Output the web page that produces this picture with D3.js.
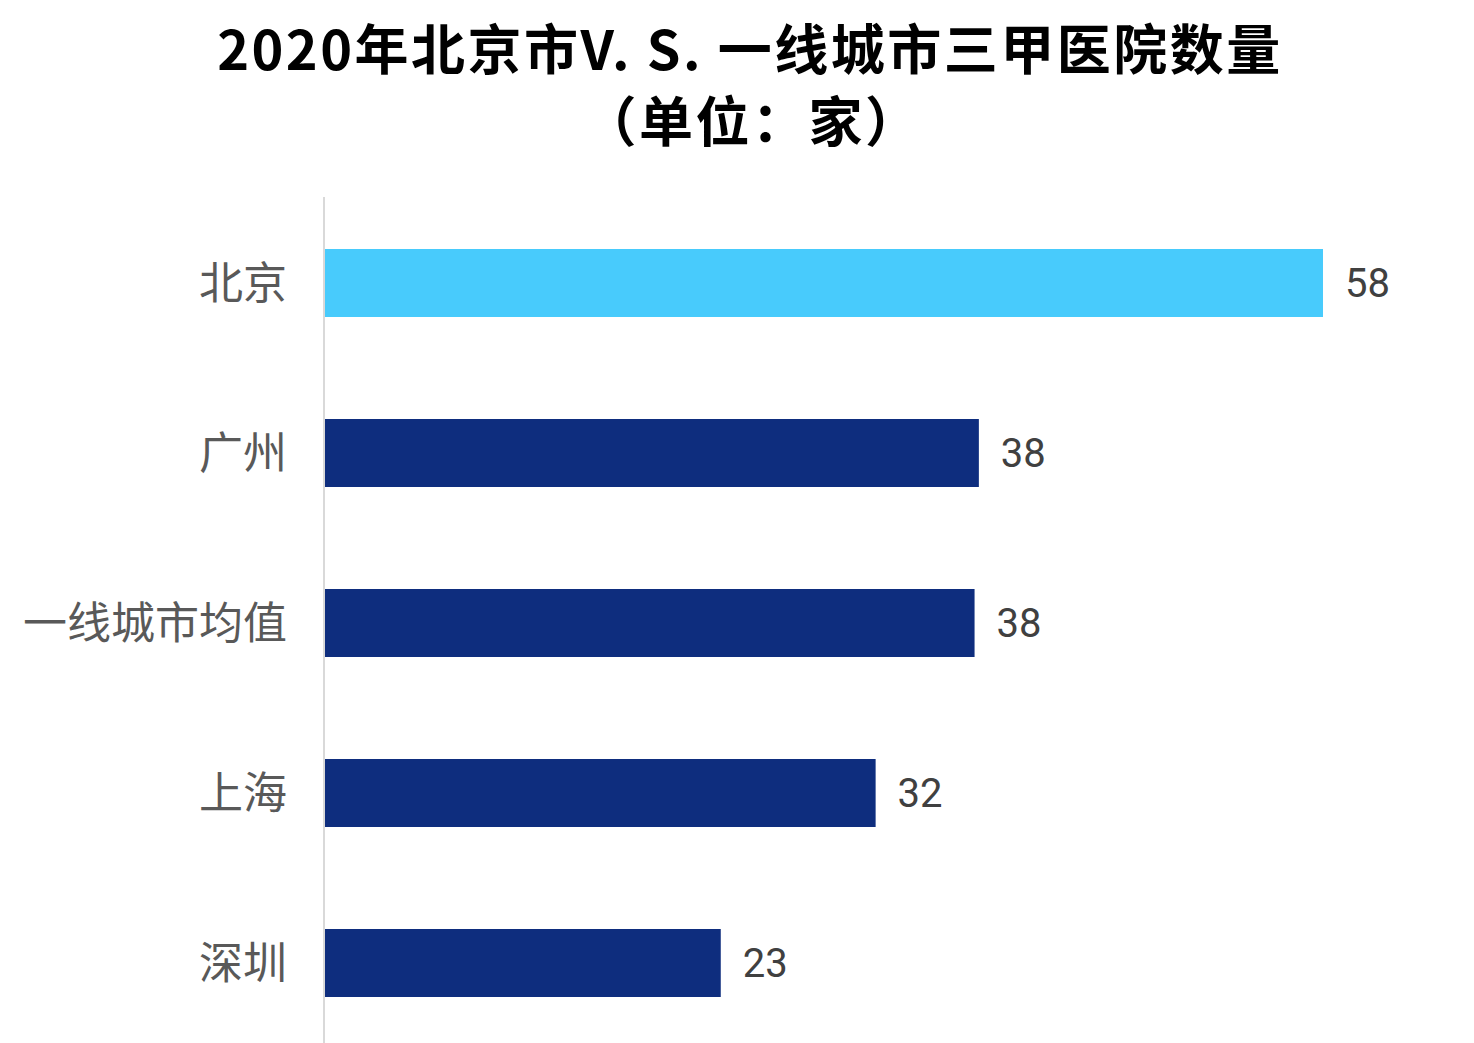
<!DOCTYPE html>
<html>
<head>
<meta charset="utf-8">
<script src="https://cdn.jsdelivr.net/npm/d3@7"></script>
<style>
    body { margin: 0; background: #fff; }
    svg { display: block; }
</style>
</head>
<body>
<svg id="chart"></svg>
<script>
const cities = ["北京", "广州", "一线城市均值", "上海", "深圳"];
const counts = [58, 38, 37.75, 32, 23];
const labels = ["58", "38", "38", "32", "23"];
const barColors = ["#48CBFC", "#0E2D7E", "#0E2D7E", "#0E2D7E", "#0E2D7E"];

const W = 1474, H = 1043;

const svg = d3.select("#chart")
    .attr("width", W)
    .attr("height", H);

// title, two lines
const titleStyle = sel => sel
    .attr("text-anchor", "middle")
    .attr("font-family", "'Noto Sans CJK SC', sans-serif")
    .attr("font-weight", "bold")
    .attr("font-size", "54px")
    .attr("letter-spacing", "2.5px")
    .attr("fill", "#000");

svg.append("text").call(titleStyle)
    .attr("x", 750).attr("y", 70)
    .text("2020年北京市V. S. 一线城市三甲医院数量");
svg.append("text").call(titleStyle)
    .attr("x", 752).attr("y", 142)
    .text("（单位：家）");

const data = cities.map((c, i) => ({ city: c, count: counts[i], label: labels[i], color: barColors[i] }));

let x = d3.scaleLinear()
    .domain([0, 58])
    .range([325, 1323]);

let y = d3.scaleBand()
    .domain(cities)
    .range([198, 1048])
    .paddingInner(0.6)
    .paddingOuter(0.3);

// axis line
svg.append("line")
    .attr("x1", 324).attr("x2", 324)
    .attr("y1", 197).attr("y2", H)
    .attr("stroke", "#d9d9d9")
    .attr("stroke-width", 2);

// bars
svg.selectAll("rect.bar")
    .data(data)
    .enter()
    .append("rect")
    .attr("class", "bar")
    .attr("x", x(0))
    .attr("y", d => y(d.city))
    .attr("width", d => x(d.count) - x(0))
    .attr("height", y.bandwidth())
    .attr("fill", d => d.color);

// category labels
svg.selectAll("text.cat")
    .data(data)
    .enter()
    .append("text")
    .attr("class", "cat")
    .attr("x", 287)
    .attr("y", d => y(d.city) + y.bandwidth() / 2)
    .attr("dy", "0.36em")
    .attr("text-anchor", "end")
    .attr("font-family", "'Noto Sans CJK SC', sans-serif")
    .attr("font-size", "44px")
    .attr("fill", "#595959")
    .text(d => d.city);

// value labels
svg.selectAll("text.val")
    .data(data)
    .enter()
    .append("text")
    .attr("class", "val")
    .attr("x", d => x(d.count) + 22)
    .attr("y", d => y(d.city) + y.bandwidth() / 2)
    .attr("dy", "0.36em")
    .attr("font-family", "Roboto, sans-serif")
    .attr("font-size", "40px")
    .attr("fill", "#404040")
    .text(d => d.label);
</script>
</body>
</html>
